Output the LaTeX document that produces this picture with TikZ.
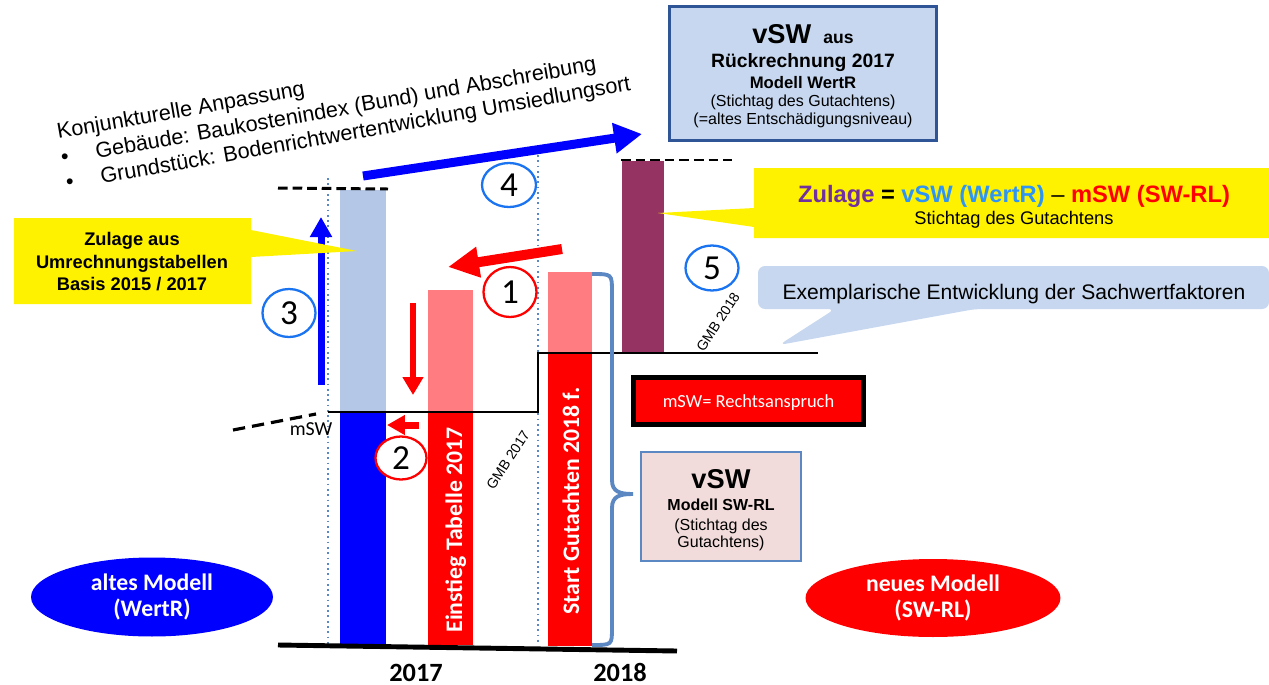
\documentclass[tikz,border=0pt]{standalone}
\usepackage{fontspec}
\setmainfont{Liberation Sans}
\newfontfamily\calibri{Carlito}
\usetikzlibrary{calc}
\usetikzlibrary{arrows.meta}
\usetikzlibrary{shapes.geometric}
\usetikzlibrary{positioning}

\definecolor{barblue}{HTML}{0000FF}
\definecolor{barlightblue}{HTML}{B4C7E7}
\definecolor{barpink}{HTML}{FF7C80}
\definecolor{barred}{HTML}{FF0000}
\definecolor{barpurple}{HTML}{953462}
\definecolor{boxblue}{HTML}{C6D7EF}
\definecolor{boxborder}{HTML}{2F5597}
\definecolor{bracecol}{HTML}{5B87C3}
\definecolor{rosebox}{HTML}{F2DCDB}
\definecolor{ringblue}{HTML}{1A73F0}
\definecolor{zulagepurple}{HTML}{7030A0}
\definecolor{wertrblue}{HTML}{2E95F5}

\begin{document}
\begin{tikzpicture}[x=0.02cm, y=-0.02cm]
    \tikzset{
        ring/.style={draw=#1, line width=1.3pt, fill=white, ellipse, inner sep=0pt,
            minimum width=1.06cm, minimum height=0.92cm,
            font=\calibri\fontsize{20}{20}\selectfont},
        bartext/.style={rotate=90, anchor=base, text=white, inner sep=0pt,
            font=\calibri\bfseries\fontsize{13.5}{14}\selectfont},
        modell/.style={ellipse, fill=#1, text=white, align=center, inner sep=0pt,
            font=\calibri\bfseries\fontsize{13.5}{14.5}\selectfont},
        gmb/.style={rotate=57, inner sep=0pt, font=\fontsize{8}{8}\selectfont},
        txt/.style={anchor=base, inner sep=0pt},
        slanted/.style={rotate=10, anchor=base west, inner sep=0pt, font=\fontsize{12.3}{14}\selectfont}
    }

    % Frame
    \fill [white] (0,0) rectangle (1269,684);
    \useasboundingbox (0,0) rectangle (1269,684);

    % ---- Notes ----
    % Bars : 2017 left, 2018 right
    % mSW line steps up from 2017 to 2018

    % Time markers
    \draw [bracecol, dotted, line width=1pt] (328,178) -- (328,644);
    \draw [bracecol, dotted, line width=1pt] (538,155) -- (538,643);

    % Bars 2017
    \fill [barlightblue] (340,190) rectangle (386,412);
    \fill [barblue] (340,412) rectangle (386,645);
    \fill [barpink] (428,290) rectangle (473,412);
    \fill [barred] (428,412) rectangle (473,645);

    % Bars 2018
    \fill [barpink] (548,272) rectangle (592,353);
    \fill [barred] (548,353) rectangle (592,646);
    \fill [barpurple] (622,161) rectangle (664,353);

    \node [bartext] (einstieg) at (462,530) {Einstieg Tabelle 2017};
    \node [bartext] (start) at (579,501) {Start Gutachten 2018 f.};

    % vSW levels
    \draw [line width=1.7pt, dash pattern=on 5.5pt off 2.8pt] (278,188) -- (388,189);
    \draw [line width=1.7pt, dash pattern=on 5.5pt off 2.8pt] (621,160) -- (732,160);

    % mSW line
    \draw [line width=1.3pt] (328,412) -- (538,412) -- (538,353) -- (818,353);
    \draw [line width=1.8pt, dash pattern=on 7pt off 4pt] (233,430) -- (316,414);
    \node [txt, font=\calibri\fontsize{11.3}{12}\selectfont] (msw) at (311,435) {mSW};

    % Time axis
    \draw [line width=2.8pt] (278,645) -- (677,651);
    \node [txt, font=\calibri\bfseries\fontsize{15}{16}\selectfont] (y2017) at (416,681) {2017};
    \node [txt, font=\calibri\bfseries\fontsize{15}{16}\selectfont] (y2018) at (620,681) {2018};

    % Brace
    \draw [bracecol, line width=2.2pt] (592,274) .. controls (612,274) .. (612,292) -- (612,480)
        .. controls (612,492) and (620,494) .. (633,494)
        .. controls (620,494) and (612,496) .. (612,508) -- (612,628)
        .. controls (612,645) .. (592,645);

    % Arrows
    \coordinate (A1) at (562,249);
    \coordinate (A1e) at (448,267);
    \coordinate (A2) at (419,425);
    \coordinate (A2e) at (387,425);
    \coordinate (A3) at (321,385);
    \coordinate (A3e) at (321,217);
    \coordinate (A4) at (363,176);
    \coordinate (A4e) at (642,134);
    \coordinate (Ad) at (413,303);
    \coordinate (Ade) at (413,395);

    \draw [barblue, line width=0.18cm, -{Triangle[length=0.56cm, width=0.58cm]}] (A4) -- (A4e);
    \draw [barblue, line width=0.14cm, -{Triangle[length=0.4cm, width=0.42cm]}] (A3) -- (A3e);
    \draw [barred, line width=0.2cm, -{Triangle[length=0.62cm, width=0.58cm]}] (A1) -- (A1e);
    \draw [barred, line width=0.12cm, -{Triangle[length=0.36cm, width=0.4cm]}] (Ad) -- (Ade);
    \draw [barred, line width=0.14cm, -{Triangle[length=0.36cm, width=0.38cm]}] (A2) -- (A2e);

    % Steps
    \node [ring=barred, minimum height=1cm] (n1) at (510,292) {1};
    \node [ring=barred, minimum width=1.02cm, minimum height=0.86cm] (n2) at (401,458) {2};
    \node [ring=ringblue, minimum height=0.96cm] (n3) at (289,313) {3};
    \node [ring=ringblue, minimum width=1.08cm, minimum height=0.88cm] (n4) at (509,185) {4};
    \node [ring=ringblue, minimum height=0.9cm] (n5) at (712,268) {5};

    \node [gmb] (gmb17) at (508,460) {GMB 2017};
    \node [gmb] (gmb18) at (718,322) {GMB 2018};

    % Adjustment
    \node [slanted] (konj) at (58,139) {Konjunkturelle Anpassung};
    \node [slanted] (gebaeude) at (62,165)
        {\makebox[20pt][l]{\textbullet}Gebäude: Baukostenindex (Bund) und Abschreibung};
    \node [slanted] (grund) at (67,190)
        {\makebox[20pt][l]{\textbullet}Grundstück: Bodenrichtwertentwicklung Umsiedlungsort};

    % vSW from WertR
    \node [draw=boxborder, line width=1.7pt, fill=boxblue, minimum width=5.34cm, minimum height=2.68cm] (wertr)
        at (803,73.5) {};
    \node [txt] (wertr1) at (803,43) {\bfseries\fontsize{15.5}{16}\selectfont vSW\, \fontsize{10}{12}\selectfont aus};
    \node [txt, font=\bfseries\fontsize{11}{12}\selectfont] (wertr2) at (803,67) {Rückrechnung 2017};
    \node [txt, font=\bfseries\fontsize{9.5}{10}\selectfont] (wertr3) at (803,88) {Modell WertR};
    \node [txt, font=\fontsize{9.1}{10}\selectfont] (wertr4) at (803,106) {(Stichtag des Gutachtens)};
    \node [txt, font=\fontsize{9.1}{10}\selectfont] (wertr5) at (803,124) {(=altes Entschädigungsniveau)};

    % Callouts
    \fill [yellow] (14,218) -- (251,218) -- (251,230) -- (357,251) -- (251,257) -- (251,304) -- (14,304) -- cycle;
    \node [txt, font=\bfseries\fontsize{10.4}{12}\selectfont] (zul1) at (132,245) {Zulage aus};
    \node [txt, font=\bfseries\fontsize{10.4}{12}\selectfont] (zul2) at (132,268) {Umrechnungstabellen};
    \node [txt, font=\bfseries\fontsize{10.4}{12}\selectfont] (zul3) at (132,290) {Basis 2015 / 2017};

    \fill [yellow] (754,168) -- (1269,168) -- (1269,238) -- (754,238) -- (754,227) -- (658,213) -- (754,208) -- cycle;
    \node [txt, font=\bfseries\fontsize{13.5}{15}\selectfont] (formel) at (1014,202)
        {{\color{zulagepurple}Zulage} = {\color{wertrblue}vSW (WertR)} {\mdseries –} {\color{barred}mSW (SW-RL)}};
    \node [txt, font=\fontsize{10.4}{12}\selectfont] (stichtag) at (1014,224) {Stichtag des Gutachtens};

    \fill [boxblue, rounded corners=4] (758,266) -- (1269,266) -- (1269,309) -- (975,309) -- (779,345)
        -- (835,309) -- (758,309) -- cycle;
    \node [txt, font=\fontsize{12}{14}\selectfont] (faktoren) at (1014,299) {Exemplarische Entwicklung der Sachwertfaktoren};

    % mSW and vSW boxes
    \node [draw=black, line width=2.8pt, fill=barred, minimum width=4.6cm, minimum height=0.94cm] (anspruch)
        at (748.5,401) {};
    \node [txt, text=white, font=\calibri\fontsize{10.5}{12}\selectfont] (anspruchtxt) at (748.5,407) {mSW= Rechtsanspruch};

    \node [draw=bracecol, line width=1.4pt, fill=rosebox, minimum width=3.2cm, minimum height=2.18cm] (swrl)
        at (721,506.5) {};
    \node [txt, font=\bfseries\fontsize{15.5}{16}\selectfont] (swrl1) at (721,488) {vSW};
    \node [txt, font=\bfseries\fontsize{9.1}{10}\selectfont] (swrl2) at (721,510) {Modell SW-RL};
    \node [txt, font=\fontsize{9.1}{10}\selectfont] (swrl3) at (721,530) {(Stichtag des};
    \node [txt, font=\fontsize{9.1}{10}\selectfont] (swrl4) at (721,547) {Gutachtens)};

    % Models
    \node [modell=barblue, minimum width=4.84cm, minimum height=1.58cm] (alt) at (152,597) {altes Modell\\(WertR)};
    \node [modell=barred, minimum width=5.1cm, minimum height=1.56cm] (neu) at (933,598) {neues Modell\\(SW-RL)};

\end{tikzpicture}
\end{document}
